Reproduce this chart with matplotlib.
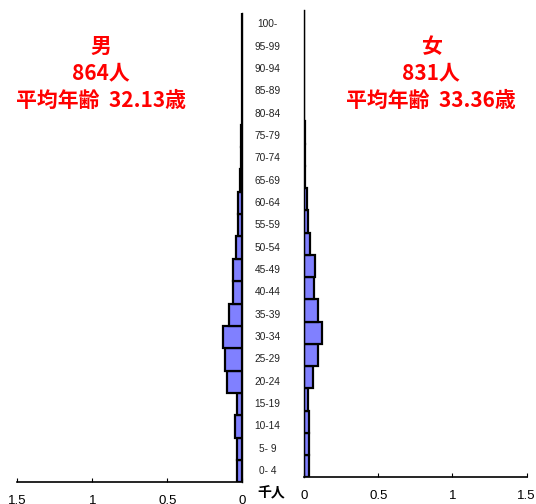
import matplotlib
matplotlib.use("Agg")
import matplotlib.pyplot as plt

# age groups, youngest first
age_labels = ["0- 4", "5- 9", "10-14", "15-19", "20-24", "25-29", "30-34",
              "35-39", "40-44", "45-49", "50-54", "55-59", "60-64", "65-69",
              "70-74", "75-79", "80-84", "85-89", "90-94", "95-99", "100-"]

# population in thousands
male = [0.035, 0.035, 0.051, 0.037, 0.099, 0.117, 0.129,
        0.086, 0.063, 0.063, 0.043, 0.031, 0.027, 0.013,
        0.008, 0.006, 0.005, 0.004, 0.0, 0.0, 0.0]
female = [0.031, 0.037, 0.033, 0.029, 0.063, 0.094, 0.121,
          0.091, 0.069, 0.073, 0.042, 0.024, 0.017, 0.007,
          0.005, 0.004, 0.003, 0.0, 0.002, 0.002, 0.0]

x_ticks = [0, 0.5, 1, 1.5]
x_ticklabels = ["0", "0.5", "1", "1.5"]

male_text = ["男", "864人", "平均年齢  32.13歳"]
female_text = ["女", "831人", "平均年齢  33.36歳"]

W, H = 536, 504
fig = plt.figure(figsize=(W / 100, H / 100), dpi=100)

bar_color = "#8080ff"
ypos = list(range(len(age_labels)))

# male side (left)
ax_m = fig.add_axes([17.3 / W, 1 - 482.3 / H, 225 / W, 469.3 / H])
ax_m.barh(ypos, male, height=1.0, color=bar_color, edgecolor="black", linewidth=1.6)
ax_m.set_xlim(1.5, 0)
ax_m.set_ylim(-0.5, len(age_labels) - 0.5)

# female side (right)
ax_f = fig.add_axes([304 / W, 1 - 477.3 / H, 222.7 / W, 467.3 / H])
ax_f.barh(ypos, female, height=1.0, color=bar_color, edgecolor="black", linewidth=1.6)
ax_f.set_xlim(0, 1.5)
ax_f.set_ylim(-0.5, len(age_labels) - 0.5)

for ax, keep in ((ax_m, "right"), (ax_f, "left")):
    for side in ("top", "left", "right"):
        ax.spines[side].set_visible(side == keep)
    ax.spines["bottom"].set_linewidth(1.2)
    ax.spines[keep].set_linewidth(1.0)
    ax.set_yticks([])
    ax.set_xticks(x_ticks)
    ax.set_xticklabels(x_ticklabels, fontsize=9.5, family="Liberation Sans")
    ax.tick_params(axis="x", direction="in", length=3, width=0.8, pad=9.5)
    ax.patch.set_alpha(0)

# age labels in the middle, aligned with the male bands
for i, lab in enumerate(age_labels):
    ax_m.text(-0.167, i, lab, ha="center", va="center", fontsize=7.3,
              color="#222222", clip_on=False, family="Liberation Sans")

fig.text(271 / W, 1 - 493 / H, "千人", ha="center", va="center", fontsize=10,
         fontweight="bold", family=["Noto Sans CJK JP", "DejaVu Sans"])

title_y = [46.7, 73, 100]
for cx, lines in ((101, male_text), (431, female_text)):
    for ty, line in zip(title_y, lines):
        fig.text(cx / W, 1 - ty / H, line, ha="center", va="center",
                 fontsize=15, fontweight="bold", color="red",
                 family=["Noto Sans CJK JP", "DejaVu Sans"])

fig.savefig("out.png", dpi=100)
